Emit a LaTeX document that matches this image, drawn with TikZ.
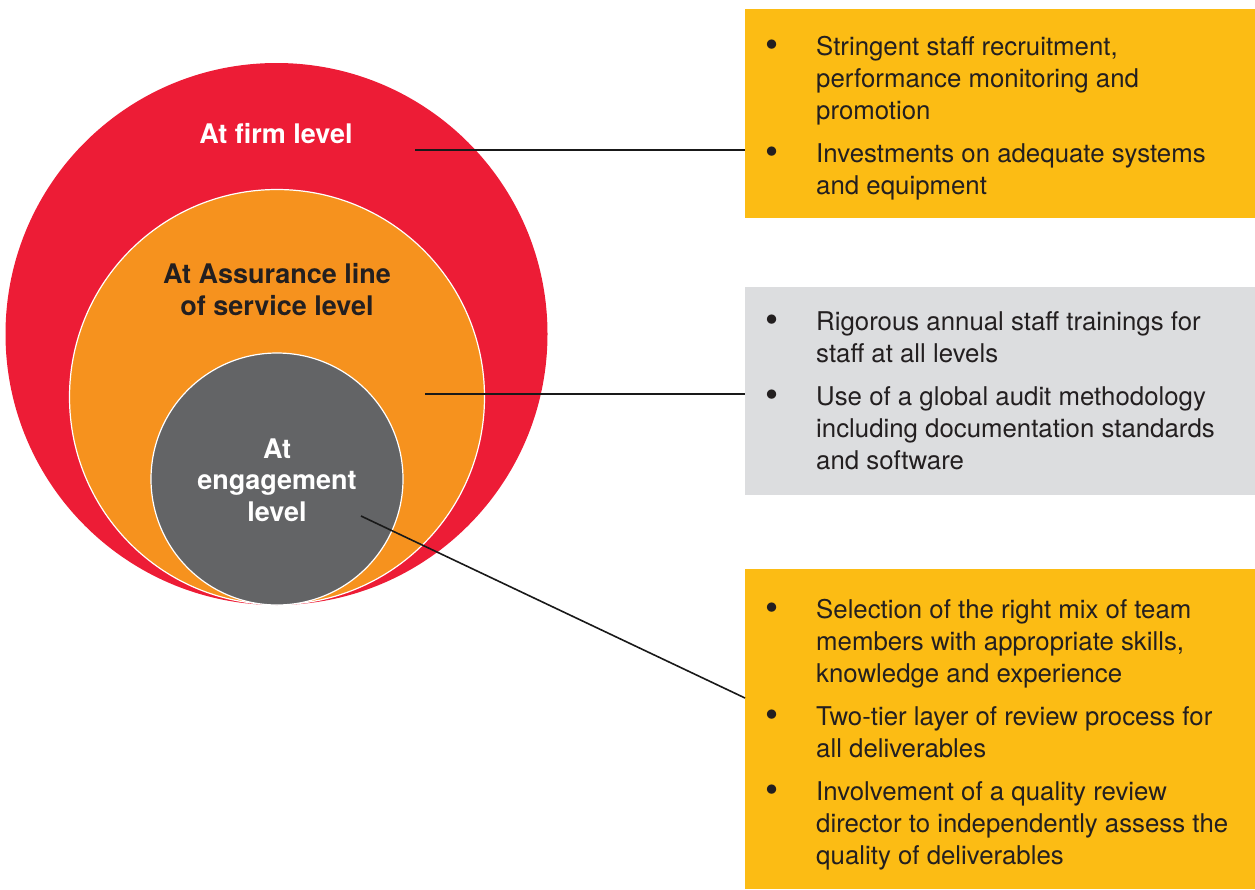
\documentclass[tikz,border=0pt]{standalone}
\usepackage{fontspec}
\setmainfont{TeX Gyre Heros}
\usepackage{array}
\definecolor{firmred}{HTML}{ED1C36}
\definecolor{assorange}{HTML}{F6921E}
\definecolor{enggray}{HTML}{636466}
\definecolor{boxyellow}{HTML}{FCBC14}
\definecolor{boxgray}{HTML}{DCDDDF}
\definecolor{txt}{HTML}{231F20}
\tikzset{
  ring/.style={circle, inner sep=0pt, draw=white, line width=1.2pt},
  panel/.style={rectangle, inner sep=0pt, anchor=north west, minimum width=510pt},
  lvl/.style={align=center, anchor=base, font=\fontsize{27}{31.5}\selectfont\bfseries},
  items/.style={anchor=base west, inner sep=0pt, text=txt, font=\fontsize{25.8}{32}\selectfont},
  conn/.style={draw=black!90, line width=1.6pt}
}
\newcommand{\bl}{\raisebox{-0.1em}{\scalebox{1.45}{\textbullet}}}
\begin{document}
\begin{tikzpicture}[x=1pt,y=-1pt]
\useasboundingbox (0,0) rectangle (1255,889);
% circles
\node[circle, inner sep=0pt, fill=firmred, minimum size=542pt] (firm) at (276.5,334) {};
\node[ring, fill=assorange, minimum size=415pt] (assur) at (277,397) {};
\node[ring, fill=enggray, minimum size=252pt] (eng) at (277,479) {};
% labels (base = last line)
\node[lvl, text=white] (lfirm) at (276,143) {At firm level};
\node[lvl, text=txt] (lassur) at (277,315) {At Assurance line\\of service level};
\node[lvl, text=white] (leng) at (277,521) {At\\engagement\\level};
% boxes
\node[panel, fill=boxyellow, minimum height=209pt] (box1) at (745,9) {};
\node[panel, fill=boxgray, minimum height=208pt] (box2) at (745,287) {};
\node[panel, fill=boxyellow, minimum height=320pt] (box3) at (745,569) {};
% texts
\node[items] (t1) at (765,55) {\begin{tabular}[t]{@{}p{51pt}@{}l@{}}
\bl & Stringent staff recruitment,\\
    & performance monitoring and\\
    & promotion\\[11pt]
\bl & Investments on adequate systems\\
    & and equipment
\end{tabular}};
\node[items] (t2) at (765,330) {\begin{tabular}[t]{@{}p{51pt}@{}l@{}}
\bl & Rigorous annual staff trainings for\\
    & staff at all levels\\[11pt]
\bl & Use of a global audit methodology\\
    & including documentation standards\\
    & and software
\end{tabular}};
\node[items] (t3) at (765,618) {\begin{tabular}[t]{@{}p{51pt}@{}l@{}}
\bl & Selection of the right mix of team\\
    & members with appropriate skills,\\
    & knowledge and experience\\[11pt]
\bl & Two-tier layer of review process for\\
    & all deliverables\\[11pt]
\bl & Involvement of a quality review\\
    & director to independently assess the\\
    & quality of deliverables
\end{tabular}};
% connectors
\coordinate (c1) at (415,150);
\coordinate (c2) at (425,394);
\coordinate (c3) at (361,516);
\coordinate (e3) at (745,698);
\draw[conn] (c1) -- (c1 -| box1.west);
\draw[conn] (c2) -- (c2 -| box2.west);
\draw[conn] (c3) -- (e3);
\end{tikzpicture}
\end{document}
